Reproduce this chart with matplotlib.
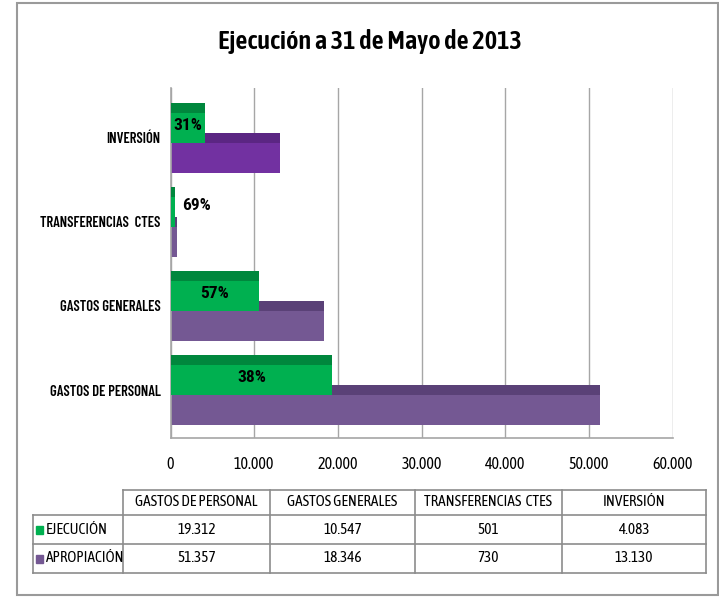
import matplotlib
matplotlib.use('Agg')
import numpy as np
from matplotlib import pyplot as plt
from matplotlib.patches import Rectangle
from matplotlib.lines import Line2D

categories = ['GASTOS DE PERSONAL', 'GASTOS GENERALES', 'TRANSFERENCIAS  CTES', 'INVERSIÓN']
ejecucion = [19312, 10547, 501, 4083]
apropiacion = [51357, 18346, 730, 13130]
series_names = ['EJECUCIÓN', 'APROPIACIÓN']
xticks = [0, 10000, 20000, 30000, 40000, 50000, 60000]

W, H = 719, 597
CALIBRI = ['Asap Condensed', 'Carlito', 'DejaVu Sans']
NARROW = ['Barlow Condensed', 'Roboto Condensed', 'DejaVu Sans']
PCT = ['Roboto Condensed', 'DejaVu Sans']

green, green_dk = '#00B050', '#00873D'
purple, purple_dk = '#745893', '#5A4177'
purple_inv, purple_inv_dk = '#7231A1', '#5B2683'

def fmt(v):
    return f'{v:,}'.replace(',', '.')

fig = plt.figure(figsize=(W / 100, H / 100), dpi=100)

# outer frame
fig.add_artist(Rectangle((17 / W, 1 - 595 / H), (718 - 17) / W, (595 - 3) / H,
                         transform=fig.transFigure, fill=False, ec='#9A9A9A', lw=1.5))

fig.text(370 / W, 1 - 42 / H, 'Ejecución a 31 de Mayo de 2013', ha='center', va='center',
         fontsize=19, fontweight='semibold', family=CALIBRI)

ax = fig.add_axes([170.5 / W, 1 - 438 / H, (672.7 - 170.5) / W, (438 - 88) / H])
per_cat = 84.1
ybot = -48 / per_cat
ax.set_ylim(ybot, ybot + 350 / per_cat)
ax.set_xlim(0, 60000)

y = np.arange(len(categories))
bh = 40 / per_cat
stripe = 10 / per_cat
off = 15 / per_cat

pc = [purple, purple, purple, purple_inv]
pcd = [purple_dk, purple_dk, purple_dk, purple_inv_dk]
ax.barh(y - off, apropiacion, height=bh, color=pc, zorder=2)
ax.barh(y - off + bh / 2 - stripe / 2, apropiacion, height=stripe, color=pcd, zorder=2)
ax.barh(y + off, ejecucion, height=bh, color=green, zorder=3)
ax.barh(y + off + bh / 2 - stripe / 2, ejecucion, height=stripe, color=green_dk, zorder=3)

# percentage executed
for i, (e, a) in enumerate(zip(ejecucion, apropiacion)):
    pct = f'{round(100 * e / a)}%'
    yc = y[i] + off - stripe / 2
    if e > 3000:
        ax.text(e / 2, yc + 0.03, pct, ha='center', va='center', fontsize=12.5,
                fontweight='bold', family=PCT, zorder=4)
    else:
        ax.text(a + 700, yc + 0.07, pct, ha='left', va='center', fontsize=12.5,
                fontweight='bold', family=PCT, zorder=4)

ax.set_xticks(xticks)
ax.set_xticklabels([fmt(v) for v in xticks], family=CALIBRI, fontsize=11.5)
ax.set_yticks(y)
ax.set_yticklabels(categories, family=NARROW, fontsize=10.5, fontweight='semibold')
ax.tick_params(axis='x', length=0, pad=13)
ax.tick_params(axis='y', length=0, pad=7)
ax.grid(axis='x', color='#A6A6A6', lw=1, zorder=0)
for s in ['top', 'right']:
    ax.spines[s].set_visible(False)
for s in ['left', 'bottom']:
    ax.spines[s].set_color('#A6A6A6')
    ax.spines[s].set_linewidth(1.2)

# data table
col_edges = [123, 270, 415, 562, 706]
row_edges = [490, 515, 544, 573]
lab_left = 33
lc = '#8C8C8C'

def fx(px):
    return px / W

def fy(py):
    return 1 - py / H

def hline(x0, x1, yy):
    fig.add_artist(Line2D([fx(x0), fx(x1)], [fy(yy), fy(yy)], color=lc, lw=1.2))

def vline(xx, y0, y1):
    fig.add_artist(Line2D([fx(xx), fx(xx)], [fy(y0), fy(y1)], color=lc, lw=1.2))

hline(col_edges[0], col_edges[-1], row_edges[0])
for yy in row_edges[1:]:
    hline(lab_left, col_edges[-1], yy)
vline(lab_left, row_edges[1], row_edges[-1])
for xx in col_edges:
    vline(xx, row_edges[0], row_edges[-1])

for j, cat in enumerate(categories):
    cx = (col_edges[j] + col_edges[j + 1]) / 2
    fig.text(fx(cx), fy((row_edges[0] + row_edges[1]) / 2), cat, ha='center', va='center',
             fontsize=11, family=CALIBRI)
    for r, vals in enumerate([ejecucion, apropiacion]):
        cy = (row_edges[r + 1] + row_edges[r + 2]) / 2
        fig.text(fx(cx), fy(cy), fmt(vals[j]), ha='center', va='center',
                 fontsize=11, family=CALIBRI)

for r, (name, col) in enumerate(zip(series_names, [green, purple])):
    cy = (row_edges[r + 1] + row_edges[r + 2]) / 2
    fig.add_artist(Rectangle((fx(36), fy(cy + 4)), 7 / W, 8 / H, transform=fig.transFigure,
                             color=col))
    fig.text(fx(46), fy(cy), name, ha='left', va='center', fontsize=11, family=CALIBRI)

fig.savefig('out.png', dpi=100)
